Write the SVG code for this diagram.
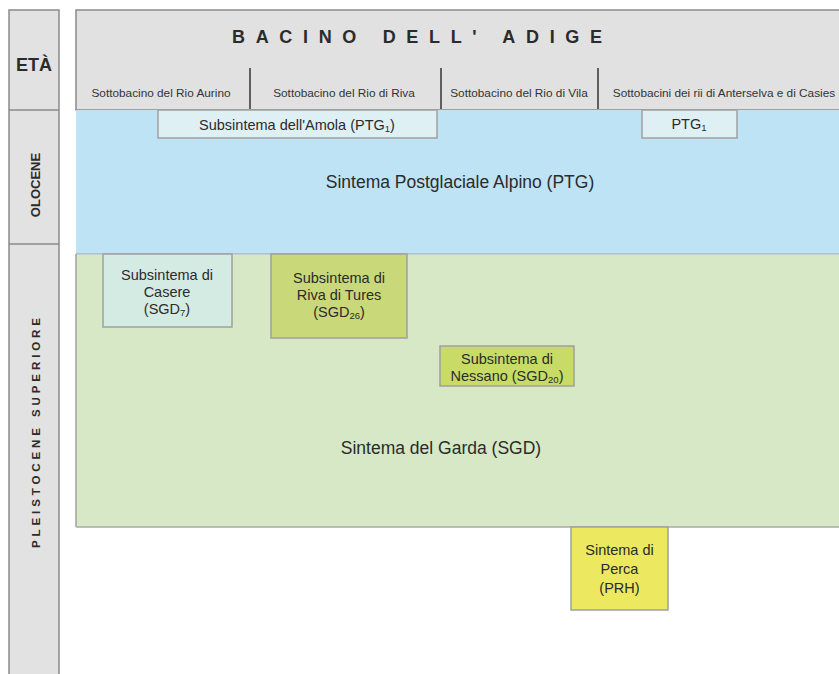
<svg xmlns="http://www.w3.org/2000/svg" width="839" height="674" viewBox="0 0 839 674">
<style>
text{font-family:"Liberation Sans",Arial,sans-serif;fill:#2b2b2b}
.col{fill:#e2e2e2;stroke:#8a8a8a;stroke-width:1.5}
.hdr{fill:#e1e1e1;stroke:#8a8a8a;stroke-width:1.5}
.sub{font-size:11.8px;text-anchor:middle;fill:#333}
.box{stroke:#a0a0a0;stroke-width:1.5}
.lbl{font-size:14.5px;text-anchor:middle}
.big{font-size:17.5px;text-anchor:middle}
.div{stroke:#333;stroke-width:1.5}
.s{font-size:9.5px}
</style>
<rect width="839" height="674" fill="#ffffff"/>
<g id="age-column">
<rect class="col" x="9" y="10" width="50" height="670"/>
<line x1="9" y1="110" x2="59" y2="110" stroke="#8a8a8a" stroke-width="1.5"/>
<line x1="9" y1="244" x2="59" y2="244" stroke="#8a8a8a" stroke-width="1.5"/>
<text x="34" y="71" text-anchor="middle" font-size="18" font-weight="bold">ETÀ</text>
<text transform="translate(39.5,185) rotate(-90)" text-anchor="middle" font-size="13" font-weight="bold" fill="#444">OLOCENE</text>
<text transform="translate(39.5,433) rotate(-90)" text-anchor="middle" font-size="11.5" font-weight="bold" fill="#444" textLength="230" lengthAdjust="spacing">PLEISTOCENE SUPERIORE</text>
</g>
<g id="header">
<rect class="hdr" x="76" y="10" width="770" height="100"/>
<text x="417" y="43" text-anchor="middle" font-size="18" font-weight="bold" textLength="370" lengthAdjust="spacing">BACINO DELL' ADIGE</text>
<text class="sub" x="161" y="97">Sottobacino del Rio Aurino</text>
<text class="sub" x="344" y="97">Sottobacino del Rio di Riva</text>
<text class="sub" x="519" y="97">Sottobacino del Rio di Vila</text>
<text class="sub" x="724" y="97">Sottobacini dei rii di Anterselva e di Casies</text>
<line class="div" x1="250" y1="68" x2="250" y2="109"/>
<line class="div" x1="441" y1="68" x2="441" y2="109"/>
<line class="div" x1="598" y1="68" x2="598" y2="109"/>
</g>
<g id="PTG">
<rect x="76" y="110" width="770" height="144" fill="#bee3f5"/>
<line x1="76" y1="254" x2="839" y2="254" stroke="#a9b8bf" stroke-width="1.5"/>
<text class="big" x="460" y="188">Sintema Postglaciale Alpino (PTG)</text>
</g>
<g id="SGD">
<rect x="76" y="254.75" width="770" height="272" fill="#d6e8c6"/>
<line x1="76" y1="254" x2="76" y2="527" stroke="#a0a0a0" stroke-width="1.5"/>
<line x1="76" y1="527" x2="839" y2="527" stroke="#a8a8a8" stroke-width="1.5"/>
<text class="big" x="441" y="454">Sintema del Garda (SGD)</text>
</g>
<g id="PTG1-Amola">
<rect class="box" x="158" y="110" width="279" height="28" fill="#dff0f5"/>
<text class="lbl" x="297" y="130">Subsintema dell'Amola (PTG<tspan class="s" dy="2">1</tspan><tspan dy="-2">)</tspan></text>
</g>
<g id="PTG1-right">
<rect class="box" x="642" y="110" width="95" height="28" fill="#dff0f5"/>
<text class="lbl" x="689" y="129">PTG<tspan class="s" dy="2">1</tspan></text>
</g>
<g id="SGD7">
<rect class="box" x="103" y="254" width="129" height="73" fill="#d4ebe4"/>
<text class="lbl" x="167" y="280">Subsintema di</text>
<text class="lbl" x="167" y="297">Casere</text>
<text class="lbl" x="167" y="314">(SGD<tspan class="s" dy="2">7</tspan><tspan dy="-2">)</tspan></text>
</g>
<g id="SGD26">
<rect class="box" x="271" y="254" width="136" height="84" fill="#c9d879"/>
<text class="lbl" x="339" y="283">Subsintema di</text>
<text class="lbl" x="339" y="300">Riva di Tures</text>
<text class="lbl" x="339" y="317">(SGD<tspan class="s" dy="2">26</tspan><tspan dy="-2">)</tspan></text>
</g>
<g id="SGD20">
<rect class="box" x="440" y="346" width="134" height="40" fill="#c7db66"/>
<text class="lbl" x="507" y="364">Subsintema di</text>
<text class="lbl" x="507" y="381">Nessano (SGD<tspan class="s" dy="2">20</tspan><tspan dy="-2">)</tspan></text>
</g>
<g id="PRH">
<rect class="box" x="571" y="527" width="97" height="83" fill="#ece860"/>
<text class="lbl" x="619.5" y="555">Sintema di</text>
<text class="lbl" x="619.5" y="574">Perca</text>
<text class="lbl" x="619.5" y="593">(PRH)</text>
</g>
<g id="connectors"></g>
</svg>
